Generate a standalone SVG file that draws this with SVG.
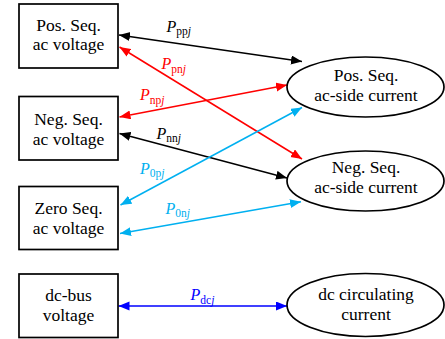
<svg xmlns="http://www.w3.org/2000/svg" width="445" height="339" viewBox="0 0 445 339">
<style>
.box{fill:#fff;stroke:#000;stroke-width:1.7}
.ell{fill:#fff;stroke:#000;stroke-width:1.7}
.t{font-size:17.5px;text-anchor:middle;fill:#000}
.l{font-size:16px}
.i{font-style:italic}
.s{font-size:11.5px}
.k{stroke:#000;fill:#000}
.r{stroke:#ff0000;fill:#ff0000}
.c{stroke:#00b0f0;fill:#00b0f0}
.b{stroke:#0000ff;fill:#0000ff}
line{stroke-width:1.5;fill:none}
</style>
<defs>
<marker id="ak" markerUnits="userSpaceOnUse" markerWidth="12" markerHeight="10" refX="11" refY="4.5" orient="auto-start-reverse"><path d="M0,0 L11,4.5 L0,9 z" fill="#000"/></marker>
<marker id="ar" markerUnits="userSpaceOnUse" markerWidth="12" markerHeight="10" refX="11" refY="4.5" orient="auto-start-reverse"><path d="M0,0 L11,4.5 L0,9 z" fill="#ff0000"/></marker>
<marker id="ac" markerUnits="userSpaceOnUse" markerWidth="12" markerHeight="10" refX="11" refY="4.5" orient="auto-start-reverse"><path d="M0,0 L11,4.5 L0,9 z" fill="#00b0f0"/></marker>
<marker id="ab" markerUnits="userSpaceOnUse" markerWidth="12" markerHeight="10" refX="11" refY="4.5" orient="auto-start-reverse"><path d="M0,0 L11,4.5 L0,9 z" fill="#0000ff"/></marker>
</defs>
<g font-family="'Liberation Serif', 'Times New Roman', serif">
<g id="connectors">
<line class="k" x1="119" y1="35" x2="302" y2="61.5" marker-start="url(#ak)" marker-end="url(#ak)"/>
<line class="r" x1="119.5" y1="47" x2="302" y2="159" marker-start="url(#ar)" marker-end="url(#ar)"/>
<line class="r" x1="119.5" y1="117" x2="287" y2="85" marker-start="url(#ar)" marker-end="url(#ar)"/>
<line class="k" x1="119.5" y1="133.5" x2="287" y2="178" marker-start="url(#ak)" marker-end="url(#ak)"/>
<line class="c" x1="120.5" y1="205" x2="302" y2="107.5" marker-start="url(#ac)" marker-end="url(#ac)"/>
<line class="c" x1="120" y1="233.5" x2="301" y2="201.7" marker-start="url(#ac)" marker-end="url(#ac)"/>
<line class="b" x1="118.5" y1="306" x2="287" y2="306" marker-start="url(#ab)" marker-end="url(#ab)"/>
<text class="l" x="166.5" y="31.5" fill="#000"><tspan class="i">P</tspan><tspan class="s" dy="3.5">pp</tspan><tspan class="s i">j</tspan></text>
<text class="l" x="161.5" y="68.5" fill="#ff0000"><tspan class="i">P</tspan><tspan class="s" dy="4">pn</tspan><tspan class="s i">j</tspan></text>
<text class="l" x="140" y="100" fill="#ff0000"><tspan class="i">P</tspan><tspan class="s" dy="3.5">np</tspan><tspan class="s i">j</tspan></text>
<text class="l" x="156.5" y="138.5" fill="#000"><tspan class="i">P</tspan><tspan class="s" dy="3.5">nn</tspan><tspan class="s i">j</tspan></text>
<text class="l" x="140" y="173.5" fill="#00b0f0"><tspan class="i">P</tspan><tspan class="s" dy="3.5">0p</tspan><tspan class="s i">j</tspan></text>
<text class="l" x="165.5" y="213.5" fill="#00b0f0"><tspan class="i">P</tspan><tspan class="s" dy="3.5">0n</tspan><tspan class="s i">j</tspan></text>
<text class="l" x="190.5" y="300" fill="#0000ff"><tspan class="i">P</tspan><tspan class="s" dy="3.5">dc</tspan><tspan class="s i">j</tspan></text>
</g>
<g id="pos-volt"><rect class="box" x="19" y="4" width="99" height="64"/><text class="t" x="68.5" y="30.5">Pos. Seq.</text><text class="t" x="68.5" y="50">ac voltage</text></g>
<g id="neg-volt"><rect class="box" x="19" y="96.5" width="99" height="63.5"/><text class="t" x="68.5" y="125">Neg. Seq.</text><text class="t" x="68.5" y="144.5">ac voltage</text></g>
<g id="zero-volt"><rect class="box" x="19" y="186.5" width="99" height="63"/><text class="t" x="68.5" y="214">Zero Seq.</text><text class="t" x="68.5" y="233.5">ac voltage</text></g>
<g id="dc-volt"><rect class="box" x="19" y="274" width="99" height="63.5"/><text class="t" x="68.5" y="301">dc-bus</text><text class="t" x="68.5" y="320.5">voltage</text></g>
<g id="pos-cur"><ellipse class="ell" cx="365.5" cy="87" rx="78.5" ry="30"/><text class="t" x="366" y="81">Pos. Seq.</text><text class="t" x="366" y="100.5">ac-side current</text></g>
<g id="neg-cur"><ellipse class="ell" cx="365.5" cy="181" rx="78.5" ry="30"/><text class="t" x="366" y="172.5">Neg. Seq.</text><text class="t" x="366" y="192.5">ac-side current</text></g>
<g id="dc-cur"><ellipse class="ell" cx="365.5" cy="305" rx="78.5" ry="31.5"/><text class="t" x="366" y="300">dc circulating</text><text class="t" x="366" y="320">current</text></g>
</g>
</svg>
